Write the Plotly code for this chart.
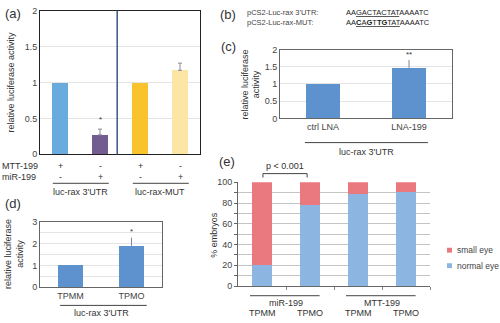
import plotly.graph_objects as go

# ---------------- data ----------------
# (a) luciferase assay with MTT-199 / miR-199
a_rows = ["MTT-199", "miR-199"]
a_mtt199 = ["+", "-", "+", "-"]
a_mir199 = ["-", "+", "-", "+"]
a_groups = ["luc-rax 3'UTR", "luc-rax-MUT"]
a_values = [1.0, 0.27, 1.0, 1.17]
a_errors = [0.0, 0.08, 0.0, 0.10]
a_marks = ["", "*", "", ""]

# (b) target site sequences
b_names = ["pCS2-Luc-rax 3'UTR:", "pCS2-Luc-rax-MUT:"]
b_seqs = ["AA<u>GACTACTAT</u>AAAATC",
          "AA<u><b>C</b>A<b>G</b>T<b>TG</b>TAT</u>AAAATC"]

# (c) LNA knock-down
c_labels = ["ctrl LNA", "LNA-199"]
c_values = [1.0, 1.47]
c_errors = [0.0, 0.23]
c_marks = ["", "**"]
c_group = "luc-rax 3'UTR"

# (d) target protector
d_labels = ["TPMM", "TPMO"]
d_values = [1.0, 1.9]
d_errors = [0.0, 0.38]
d_marks = ["", "*"]
d_group = "luc-rax 3'UTR"

# (e) eye phenotype
e_labels = ["TPMM", "TPMO", "TPMM", "TPMO"]
e_groups = ["miR-199", "MTT-199"]
e_normal = [20, 78, 89, 91]
e_small = [80, 22, 11, 9]
e_pvalue = "p < 0.001"
e_series = ["small eye", "normal eye"]

# ---------------- styles ----------------
FONT = "Liberation Sans"
TXT = "#333333"
FS = 9
a_colors = ["#6aabdd", "#735c90", "#f8c32c", "#fce6a6"]
BLUE = "#5d92cf"
SMALL_C = "#e9797e"
NORMAL_C = "#8db5e2"
W, H = 500, 323


def py(pix):
    """pixel row -> paper y"""
    return 1 - pix / H


def px(pix):
    return pix / W


fig = go.Figure()


def bars_with_errors(values, errors, xa, ya, color, width, cap, ecolor):
    xs = list(range(len(values)))
    fig.add_bar(x=xs, y=values, width=width, marker_color=color,
                marker_line_width=0, xaxis=xa, yaxis=ya,
                showlegend=False, hoverinfo="skip")
    # upper error bars only where an error was measured
    idx = [i for i, e in enumerate(errors) if e]
    fig.add_scatter(x=[xs[i] for i in idx], y=[values[i] for i in idx],
                    mode="markers", marker=dict(size=1, opacity=0),
                    error_y=dict(type="data", array=[errors[i] for i in idx],
                                 arrayminus=[0] * len(idx), symmetric=False,
                                 color=ecolor, thickness=1, width=cap),
                    xaxis=xa, yaxis=ya, showlegend=False, hoverinfo="skip")


bars_with_errors(a_values, a_errors, "x", "y", a_colors, 0.4, 2, "#8a8a9a")
bars_with_errors(c_values, c_errors, "x2", "y2", BLUE, 0.4, 0, "#7c8a99")
bars_with_errors(d_values, d_errors, "x3", "y3", BLUE, 0.4, 0, "#7c8a99")

# ---- (e) stacked
fig.add_bar(x=list(range(4)), y=e_normal, width=0.42, marker_color=NORMAL_C,
            marker_line_width=0, name=e_series[1],
            xaxis="x4", yaxis="y4", showlegend=False, hoverinfo="skip")
fig.add_bar(x=list(range(4)), y=e_small, width=0.42, marker_color=SMALL_C,
            marker_line_width=0, name=e_series[0],
            xaxis="x4", yaxis="y4", showlegend=False, hoverinfo="skip")

tickfont = dict(family=FONT, size=FS, color="#444")
common_x = dict(showgrid=False, zeroline=False, ticks="", fixedrange=True)

layout = dict(
    width=W, height=H, margin=dict(l=0, r=0, t=0, b=0),
    paper_bgcolor="white", plot_bgcolor="white", barmode="stack",
    font=dict(family=FONT, color=TXT),
    showlegend=False,
    xaxis=dict(domain=[px(40), px(200)], range=[-0.5, 3.5], showticklabels=False,
               showline=True, mirror=True, linecolor="#222", linewidth=1,
               anchor="y", **common_x),
    yaxis=dict(domain=[py(154), py(6)], range=[0, 2], dtick=0.5,
               showgrid=True, gridcolor="#e4e4e4", zeroline=False,
               showline=True, mirror=True, linecolor="#222", linewidth=1,
               tickfont=tickfont, ticks="", anchor="x"),
    xaxis2=dict(domain=[px(280), px(452)], range=[-0.5, 1.5],
                tickvals=[0, 1], ticktext=c_labels, tickfont=tickfont,
                showline=True, mirror=True, linecolor="#666", linewidth=1,
                anchor="y2", **common_x),
    yaxis2=dict(domain=[py(117), py(46)], range=[0, 2], dtick=0.5,
                showgrid=True, gridcolor="#e4e4e4", zeroline=False,
                showline=True, mirror=True, linecolor="#666", linewidth=1,
                tickfont=tickfont, ticks="", anchor="x2"),
    xaxis3=dict(domain=[px(40), px(162)], range=[-0.5, 1.5],
                tickvals=[0, 1], ticktext=d_labels, tickfont=tickfont,
                showline=True, mirror=True, linecolor="#666", linewidth=1,
                anchor="y3", **common_x),
    yaxis3=dict(domain=[py(291), py(224)], range=[0, 3], dtick=1,
                showgrid=True, gridcolor="#e4e4e4", zeroline=False,
                minor=dict(dtick=0.5, showgrid=True, gridcolor="#e4e4e4"),
                showline=True, mirror=True, linecolor="#666", linewidth=1,
                tickfont=tickfont, ticks="", anchor="x3"),
    xaxis4=dict(domain=[px(238), px(430)], range=[-0.5, 3.5], showticklabels=False,
                showline=True, linecolor="#666", linewidth=1,
                tickvals=[0.5, 1.5, 2.5, 3.5], ticks="outside", ticklen=3,
                tickcolor="#888", showgrid=False, zeroline=False, anchor="y4"),
    yaxis4=dict(domain=[py(290), py(183)], range=[0, 100], dtick=20,
                showgrid=True, gridcolor="#c4c4c4", zeroline=False,
                minor=dict(dtick=10, showgrid=True, gridcolor="#c4c4c4",
                           ticks="outside", ticklen=3, tickcolor="#666"),
                showline=True, linecolor="#666", linewidth=1,
                ticks="outside", ticklen=3, tickcolor="#666",
                tickfont=tickfont, anchor="x4"),
)
fig.update_layout(**layout)

ann = []
shapes = []


def text(x, y, s, xref="paper", size=FS, xanchor="center", yanchor="middle",
         angle=0, color=TXT, align="center"):
    ann.append(dict(x=x, y=y, xref=xref, yref="paper", text=s, showarrow=False,
                    xanchor=xanchor, yanchor=yanchor, textangle=angle, align=align,
                    font=dict(family=FONT, size=size, color=color)))


# panel letters
text(px(13), py(9), "(a)", size=13)
text(px(228), py(10), "(b)", size=13)
text(px(228), py(43), "(c)", size=13)
text(px(13), py(205), "(d)", size=13)
text(px(227), py(162), "(e)", size=13)

# y-axis titles
text(px(11), py(80), "relative luciferase activity", angle=-90)
text(px(251), py(82), "relative luciferase<br>activity", angle=-90)
text(px(14), py(257), "relative luciferase<br>activity", angle=-90)
text(px(214), py(237), "% embryos", angle=-90)

# ---- (a) significance marks and treatment table
for i, (v, e, m) in enumerate(zip(a_values, a_errors, a_marks)):
    if m:
        ann.append(dict(x=i, y=v + e + 0.14, xref="x", yref="y", text=m,
                        showarrow=False, font=dict(family=FONT, size=8, color=TXT)))
text(0, py(166), a_rows[0], xanchor="left")
text(0, py(178), a_rows[1], xanchor="left")
for i in range(4):
    text(i, py(166), a_mtt199[i], xref="x")
    text(i, py(178), a_mir199[i], xref="x")
for g, name in enumerate(a_groups):
    shapes.append(dict(type="line", xref="x", yref="paper",
                       x0=2 * g - 0.18, x1=2 * g + 1.22, y0=py(184), y1=py(184),
                       line=dict(color="#444", width=1)))
    text(2 * g + 0.5, py(193), name, xref="x")
# divider between construct groups
shapes.append(dict(type="line", xref="x", yref="y domain", x0=1.43, x1=1.43,
                   y0=0, y1=1, line=dict(color="#3d5688", width=1.5)))

# ---- (b) sequences
for k in range(2):
    text(px(245), py(8 + 10 * k), b_names[k], xanchor="left", size=7.5, color="#444")
    text(px(344), py(8 + 10 * k), b_seqs[k], xanchor="left", size=7.5, color="#222")

# ---- (c)
for i, (v, e, m) in enumerate(zip(c_values, c_errors, c_marks)):
    if m:
        ann.append(dict(x=i, y=v + e + 0.15, xref="x2", yref="y2", text=m,
                        showarrow=False, font=dict(family=FONT, size=8, color=TXT)))
shapes.append(dict(type="line", xref="x2", yref="paper", x0=-0.21, x1=1.22,
                   y0=py(142), y1=py(142), line=dict(color="#444", width=1)))
text(0.5, py(152), c_group, xref="x2")

# ---- (d)
for i, (v, e, m) in enumerate(zip(d_values, d_errors, d_marks)):
    if m:
        ann.append(dict(x=i, y=v + e + 0.3, xref="x3", yref="y3", text=m,
                        showarrow=False, font=dict(family=FONT, size=8, color=TXT)))
shapes.append(dict(type="line", xref="x3", yref="paper", x0=-0.17, x1=1.25,
                   y0=py(310), y1=py(310), line=dict(color="#444", width=1)))
text(0.5, py(318), d_group, xref="x3")

# ---- (e) group labels, p-value bracket, legend
for g, name in enumerate(e_groups):
    shapes.append(dict(type="line", xref="x4", yref="paper",
                       x0=2 * g - 0.25, x1=2 * g + 1.2, y0=py(300), y1=py(300),
                       line=dict(color="#444", width=1)))
    text(2 * g + 0.5, py(308), name, xref="x4")
for i, lab in enumerate(e_labels):
    text(i, py(318), lab, xref="x4")

shapes.append(dict(type="path", xref="x4", yref="paper",
                   path=f"M 0.02,{py(178)} L 0.02,{py(174)} L 0.94,{py(174)} L 0.94,{py(178)}",
                   line=dict(color="#444", width=1)))
text(0.48, py(166), e_pvalue, xref="x4")

for k, (name, col) in enumerate(zip(e_series, [SMALL_C, NORMAL_C])):
    yc = 253 + 16 * k
    shapes.append(dict(type="rect", xref="paper", yref="paper",
                       x0=px(447), x1=px(452), y0=py(yc + 2.5), y1=py(yc - 2.5),
                       fillcolor=col, line=dict(width=0)))
    text(px(455), py(yc), name, xanchor="left", size=8.5, color="#444")

fig.update_layout(annotations=ann, shapes=shapes)
fig.write_html("out.html")
